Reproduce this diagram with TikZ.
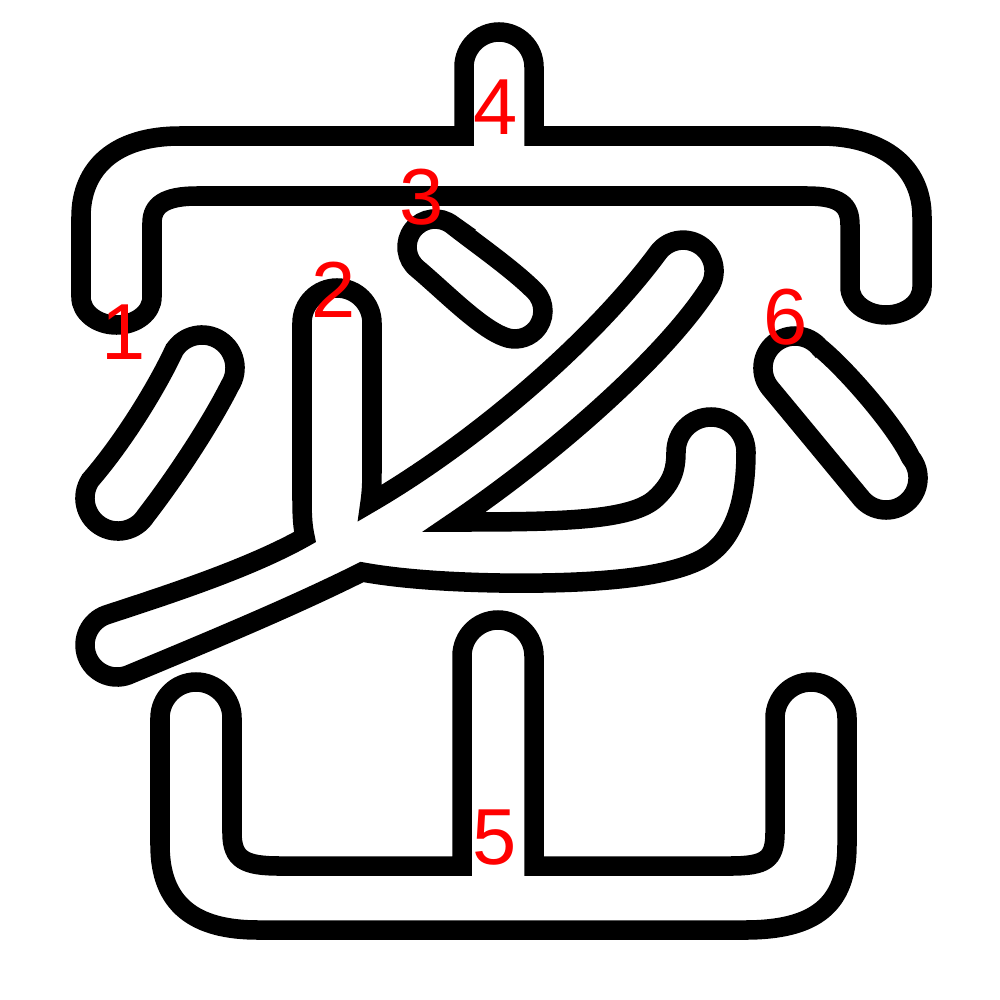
\documentclass[tikz,border=0pt]{standalone}
\usepackage{fontspec}
\setmainfont{Liberation Sans}

\begin{document}
\begin{tikzpicture}[x=0.01cm,y=-0.01cm,
    glyph/.style={draw=black,line width=0.195cm,fill=white},
    order/.style={text=red,inner sep=0pt,font=\fontsize{22.6}{24}\selectfont}]
  \useasboundingbox (0,0) rectangle (1000,1000);
  % roof with the short top stroke
  \draw[glyph] (81,297) -- (81,217) .. controls (81,168) and (115,136) .. (180,136)
    -- (464,136) -- (464,67) arc[start angle=180,end angle=360,radius=35]
    -- (534,136) -- (820,136) .. controls (885,136) and (922,168) .. (922,217)
    -- (922,287) arc[start angle=0,end angle=180,x radius=36,y radius=28]
    -- (850,225) .. controls (850,205) and (840,196) .. (807,196)
    -- (197,196) .. controls (165,196) and (152,205) .. (152,223)
    -- (152,297) arc[start angle=0,end angle=180,x radius=35.5,y radius=28] -- cycle;
  % left dot
  \draw[glyph] (174.2,350.2) .. controls (158,385) and (125,440) .. (90.2,480.2)
    arc[start angle=212.7,end angle=32.7,radius=33]
    .. controls (175,478) and (210,425) .. (229.8,385.8)
    arc[start angle=32.7,end angle=-147.3,radius=33] -- cycle;
  % middle dot
  \draw[glyph] (452.3,225) .. controls (475.9,243.5) and (513.8,269.9) .. (534.9,291.3)
    arc[start angle=-44.6,end angle=112,radius=28]
    .. controls (480,328) and (445,292) .. (417.7,269)
    arc[start angle=128.2,end angle=308.2,radius=28] -- cycle;
  % right dot
  \draw[glyph] (819.7,347.6) .. controls (845,368) and (895,425) .. (910.7,457.6)
    arc[start angle=-39.6,end angle=140.4,radius=32]
    .. controls (842.2,475.3) and (790,412) .. (770.3,388.4)
    arc[start angle=140.4,end angle=320.4,radius=32] -- cycle;
  % heart part
  \draw[glyph] (302,323) arc[start angle=180,end angle=360,radius=35]
    -- (372,470) .. controls (372,488) and (371,496) .. (370,503)
    .. controls (470,445) and (590,345) .. (658.8,251.8)
    arc[start angle=-141.5,end angle=38.5,radius=31]
    .. controls (665,355) and (560,450) .. (454,522)
    .. controls (560,522) and (632,521) .. (656,498)
    .. controls (672,483) and (676,470) .. (676,452)
    arc[start angle=180,end angle=360,radius=35]
    .. controls (746,505) and (733,543) .. (700,560)
    .. controls (660,580) and (580,584) .. (500,583)
    .. controls (440,582) and (395,578) .. (362,572)
    .. controls (290,608) and (200,645) .. (127.9,675.1)
    arc[start angle=70.1,end angle=250.1,radius=32]
    .. controls (170,594) and (250,568) .. (305,537)
    .. controls (303,528) and (302,518) .. (302,500) -- cycle;
  % mountain
  \draw[glyph] (160,718) arc[start angle=180,end angle=360,radius=36]
    -- (232,833) .. controls (232,860) and (245,866) .. (280,866)
    -- (462,866) -- (462,656) arc[start angle=180,end angle=360,radius=36]
    -- (534,866) -- (730,866) .. controls (765,866) and (775,860) .. (775,833)
    -- (775,718) arc[start angle=180,end angle=360,radius=36]
    -- (847,845) .. controls (847,905) and (815,930) .. (745,930)
    -- (258,930) .. controls (195,930) and (160,905) .. (160,845) -- cycle;
  \foreach \xpos/\ypos/\num in {124/332/1,334/290/2,422/197/3,495.5/107.5/4,495/838/5,786/317/6}{%
    \node[order] (num-\num) at (\xpos,\ypos) {\num};
  }
\end{tikzpicture}
\end{document}
